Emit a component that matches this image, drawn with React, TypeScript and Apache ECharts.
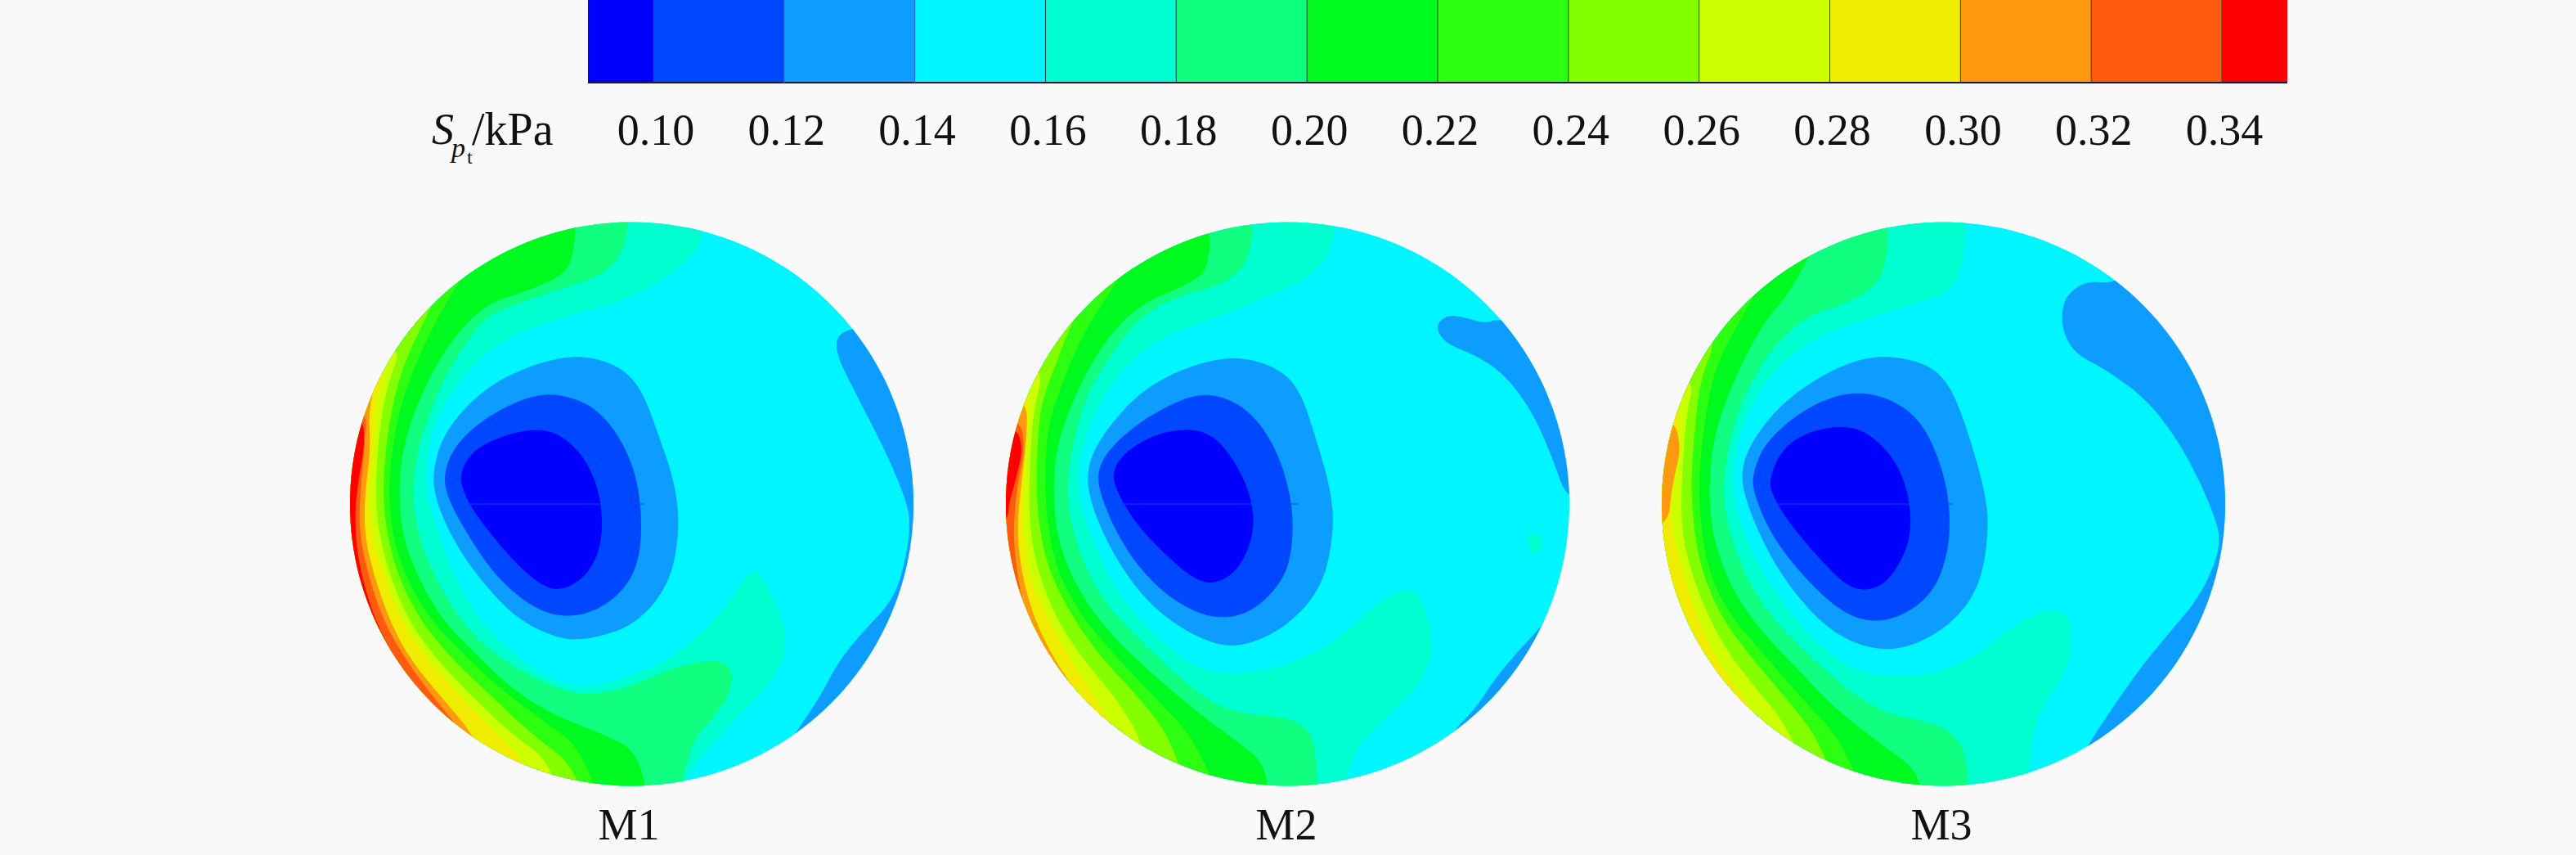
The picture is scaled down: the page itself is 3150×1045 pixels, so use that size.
import React, { useEffect, useRef } from "react";
import * as echarts from "echarts";

const tickValues = [0.1, 0.12, 0.14, 0.16, 0.18, 0.2, 0.22, 0.24, 0.26, 0.28, 0.3, 0.32, 0.34];
const binEdges = [0.09, 0.1, 0.12, 0.14, 0.16, 0.18, 0.2, 0.22, 0.24, 0.26, 0.28, 0.3, 0.32, 0.34, 0.35];
const binColors = ["#0000ff", "#0048ff", "#0d9cff", "#00f6ff", "#00ffd0", "#10ff80", "#00fa20", "#2cff10", "#84ff00", "#ccff00", "#f0ec00", "#ff9a10", "#ff5a10", "#ff0000"];
const panelNames = ["M1", "M2", "M3"];

type P = number[][];
// Iso-contours, in picture-scale field coordinates (y downward).
const m1High: P[] = [
  [[945,-20],[950,95],[880,160],[760,230],[600,270],[450,320],[350,400],[270,520],[245,640],[255,720],[300,850],[360,970],[430,1050],[530,1130],[640,1170],[760,1140],[880,1090],[1000,980],[1060,890],[1090,885],[1130,960],[1160,1040],[1140,1130],[1040,1230],[950,1320],[900,1385],[890,1480]],
  [[760,-20],[755,100],[700,170],[600,200],[480,240],[400,270],[330,360],[270,470],[225,600],[215,720],[240,830],[290,930],[350,1020],[430,1090],[540,1150],[640,1185],[760,1165],[860,1120],[970,1095],[1020,1115],[1020,1170],[980,1230],[930,1280],[895,1380],[890,1480]],
  [[628,-20],[625,110],[600,170],[500,210],[400,240],[310,330],[240,450],[195,570],[180,680],[190,800],[230,900],[290,1000],[370,1080],[470,1170],[570,1230],[680,1270],[790,1320],[810,1480]],
  [[420,60],[330,190],[280,270],[230,370],[190,470],[165,580],[155,690],[165,800],[200,900],[260,1000],[340,1080],[440,1170],[540,1240],[640,1310],[700,1480]],
  [[320,130],[250,270],[200,370],[170,460],[150,570],[140,690],[150,790],[180,900],[240,1010],[320,1100],[420,1190],[520,1280],[620,1350],[660,1480]],
  [[90,340],[190,340],[150,440],[130,560],[122,690],[130,790],[160,900],[210,1010],[280,1100],[370,1190],[470,1280],[560,1340],[600,1480]],
  [[50,390],[150,390],[125,460],[120,560],[105,700],[115,800],[145,900],[190,1010],[250,1090],[330,1180],[420,1270],[500,1340],[520,1480]],
  [[30,440],[120,440],[105,500],[110,590],[95,700],[95,800],[120,900],[165,1020],[220,1110],[300,1200],[370,1280],[430,1400]],
  [[20,490],[100,490],[95,580],[85,680],[80,780],[100,880],[140,1000],[200,1100],[270,1190],[340,1270],[380,1400]],
  [[20,510],[90,510],[95,580],[80,660],[70,740],[75,840],[105,960],[150,1060],[200,1130],[280,1260]],
];
const m1Low: P[] = [
  [[265,640],[300,540],[400,440],[520,385],[630,362],[730,385],[790,440],[830,540],[880,680],[888,800],[860,920],[780,1010],[680,1045],[590,1050],[480,1000],[400,920],[330,830],[275,720]],
  [[295,640],[330,570],[420,500],[540,452],[640,470],[710,520],[770,620],[793,730],[790,850],[750,930],[670,985],[580,995],[500,960],[420,890],[350,790],[300,700]],
  [[332,650],[370,590],[450,555],[530,540],[590,555],[650,610],[690,700],[695,810],[660,890],[600,928],[550,925],[480,870],[400,780],[350,710]],
];
const m1Rim: P[] = [
  [[1272,340],[1310,295],[1450,300],[1620,500],[1620,1100],[1400,1400],[1150,1320],[1190,1260],[1240,1190],[1290,1100],[1350,1030],[1430,950],[1462,840],[1470,760],[1455,700],[1400,580],[1340,470]],
];
const m2High: P[] = [
  [[905,-20],[880,130],[800,190],[700,230],[600,270],[450,320],[350,400],[280,510],[240,640],[255,740],[300,860],[370,970],[450,1050],[560,1130],[700,1130],[860,1080],[1000,960],[1060,930],[1100,930],[1125,990],[1140,1060],[1120,1140],[1030,1230],[930,1320],[915,1480]],
  [[690,-20],[680,130],[620,190],[500,220],[400,270],[320,370],[260,470],[225,600],[215,720],[250,850],[310,960],[400,1050],[510,1150],[620,1225],[780,1235],[830,1270],[845,1330],[850,1480]],
  [[578,20],[575,150],[530,190],[400,240],[310,330],[240,450],[190,580],[180,700],[195,820],[250,940],[330,1040],[430,1130],[540,1220],[640,1290],[720,1350],[725,1480]],
  [[420,60],[340,190],[270,290],[220,390],[170,520],[160,640],[165,760],[190,880],[250,990],[340,1090],[440,1190],[540,1290],[620,1480]],
  [[310,140],[230,280],[190,380],[150,480],[140,600],[140,740],[165,870],[220,980],[300,1090],[400,1190],[480,1290],[540,1480]],
  [[60,390],[160,390],[130,500],[122,640],[120,760],[140,880],[190,1000],[260,1100],[340,1190],[410,1300],[440,1480]],
  [[40,430],[125,430],[115,540],[108,680],[105,780],[120,900],[170,1000],[220,1090],[290,1190],[340,1280],[380,1400]],
  [[30,470],[115,470],[115,560],[100,680],[90,780],[100,880],[130,990],[180,1090],[230,1160],[300,1300]],
  [[20,520],[100,520],[110,590],[90,680],[80,790],[90,890],[110,980],[150,1060],[220,1200]],
  [[30,540],[90,540],[105,590],[85,670],[70,720],[66,760],[30,800]],
];
const m2Low: P[] = [
  [[265,640],[300,560],[400,450],[520,390],[640,365],[740,390],[800,440],[840,550],[885,700],[888,800],[860,920],[780,1010],[680,1060],[600,1065],[500,1020],[410,950],[330,840],[275,720]],
  [[292,640],[330,580],[420,510],[540,455],[620,465],[690,510],[750,600],[785,720],[785,830],[760,910],[680,985],[590,1000],[490,960],[400,880],[340,790],[300,700]],
  [[330,640],[370,590],[450,550],[530,540],[590,560],[640,620],[680,700],[690,790],[650,880],[590,915],[540,905],[470,850],[390,770],[340,690]],
];
const m2Rim: P[] = [
  [[1145,295],[1170,268],[1210,270],[1270,287],[1305,275],[1500,300],[1620,720],[1480,720],[1440,610],[1390,500],[1320,410],[1250,365],[1170,335]],
  [[1190,1270],[1250,1210],[1290,1150],[1350,1080],[1420,1010],[1450,960],[1600,1000],[1450,1400],[1150,1330]],
];
const m2Spot: P[] = [[[1370,790],[1420,800],[1410,840],[1385,840]]];
const m3High: P[] = [
  [[840,-20],[830,130],[800,210],[700,240],[600,270],[450,320],[350,400],[280,500],[240,640],[260,760],[310,870],[380,970],[460,1060],[560,1130],[700,1140],[830,1110],[960,1010],[1040,975],[1090,985],[1100,1030],[1095,1110],[1040,1190],[1000,1270],[985,1480]],
  [[640,-20],[635,170],[560,230],[430,270],[340,350],[270,470],[230,600],[220,720],[260,860],[330,980],[420,1070],[510,1150],[620,1225],[760,1250],[820,1290],[840,1360],[840,1480]],
  [[470,60],[400,200],[320,290],[250,420],[200,550],[185,680],[195,800],[240,920],[310,1020],[400,1110],[510,1220],[620,1300],[720,1370],[725,1480]],
  [[360,110],[300,220],[240,320],[200,400],[175,520],[160,660],[165,780],[190,900],[240,990],[320,1080],[420,1190],[520,1290],[600,1480]],
  [[200,200],[200,340],[165,420],[150,540],[140,680],[150,800],[170,890],[220,1000],[300,1100],[390,1200],[470,1300],[530,1480]],
  [[60,420],[150,420],[130,500],[120,620],[115,740],[125,830],[160,940],[220,1060],[290,1150],[370,1240],[420,1340],[470,1480]],
  [[30,480],[115,480],[110,540],[105,620],[90,720],[95,800],[125,900],[170,1030],[220,1120],[270,1180],[340,1300]],
  [[30,520],[100,520],[115,590],[100,650],[90,700],[85,760],[30,790]],
];
const m3Low: P[] = [
  [[265,640],[300,560],[380,470],[500,395],[610,362],[730,380],[790,430],[830,520],[880,680],[893,780],[870,920],[800,1010],[700,1065],[610,1075],[510,1040],[420,960],[340,850],[280,720]],
  [[295,650],[330,570],[430,490],[540,450],[640,465],[720,520],[770,620],[795,730],[790,840],[750,940],[660,1000],[570,1005],[490,960],[400,870],[340,790],[300,700]],
  [[338,660],[370,590],[430,550],[520,532],[590,550],[660,620],[693,710],[695,810],[650,895],[600,930],[540,925],[470,860],[390,770],[345,700]],
];
const m3Rim: P[] = [
  [[1075,260],[1090,215],[1140,185],[1200,190],[1240,170],[1500,250],[1620,700],[1620,1100],[1400,1400],[1120,1340],[1150,1290],[1220,1190],[1280,1110],[1340,1040],[1420,950],[1465,860],[1475,800],[1460,750],[1430,680],[1370,570],[1290,470],[1190,400],[1110,360],[1080,310]],
];
// The faint mesh seam that runs through the low-pressure core of every panel.
const seamSpan = [350, 800];
const seamLevel = 722;

const fieldExtent: P = [[-400, -400], [2000, -400], [2000, 2000], [-400, 2000]];
const closeOutside = (c: P): P => [...c, [-400, 1700], [-400, -300]];

// Corner cutting for drawing only: the read-off vertices stay as they are, their outline is rounded.
const rounded = (pts: P, passes: number): P => {
  let cur = pts;
  for (let k = 0; k < passes; k++) {
    const next: P = [];
    cur.forEach((a, i) => {
      const b = cur[(i + 1) % cur.length];
      next.push([0.75 * a[0] + 0.25 * b[0], 0.75 * a[1] + 0.25 * b[1]]);
      next.push([0.25 * a[0] + 0.75 * b[0], 0.25 * a[1] + 0.75 * b[1]]);
    });
    cur = next;
  }
  return cur;
};

type Region = { color: number; pts: P };
const buildRegions = (high: P[], low: P[], rim: P[], spots: P[]): Region[] => {
  const r: Region[] = [{ color: 3, pts: fieldExtent }];
  high.forEach((c, i) => r.push({ color: 4 + i, pts: rounded(closeOutside(c), 3) }));
  spots.forEach((c) => r.push({ color: 4, pts: rounded(c, 3) }));
  rim.forEach((c) => r.push({ color: 2, pts: rounded(c, 3) }));
  low.forEach((c, i) => r.push({ color: 2 - i, pts: rounded(c, 3) }));
  r.push({ color: 1, pts: [[seamSpan[0], seamLevel - 1], [seamSpan[1], seamLevel - 1], [seamSpan[1], seamLevel + 1], [seamSpan[0], seamLevel + 1]] });
  return r;
};

const panelRegions = [
  buildRegions(m1High, m1Low, m1Rim, []),
  buildRegions(m2High, m2Low, m2Rim, m2Spot),
  buildRegions(m3High, m3Low, m3Rim, []),
];
const panelXRange = [[58, 1478], [62, 1483], [67, 1488]];
const panelLeft = [428, 1230, 2032];
const labelX = [769, 1573, 2374];
const serif = "Liberation Serif";

export default function App() {
  const ref = useRef<HTMLDivElement>(null);
  useEffect(() => {
    document.body.style.margin = "0";
    document.body.style.background = "#f9f9f9";
    const chart = echarts.init(ref.current!, null, { renderer: "svg" });
    const grids: any[] = [{ left: 719, top: 0, width: 2078, height: 102 }];
    const xAxes: any[] = [{
      gridIndex: 0, type: "value", min: 0.09, max: 0.35, position: "bottom",
      axisLine: { show: false }, axisTick: { show: false }, splitLine: { show: false },
      axisLabel: {
        customValues: tickValues, margin: 30, fontFamily: serif, fontSize: 54, color: "#111",
        padding: [0, 0, 0, 6],
        formatter: (v: number) => v.toFixed(2),
      },
    }];
    const yAxes: any[] = [{ gridIndex: 0, type: "value", min: 0, max: 1, show: false }];
    const series: any[] = [{
      type: "custom", xAxisIndex: 0, yAxisIndex: 0, silent: true,
      data: binColors.map((_, i) => [binEdges[i], binEdges[i + 1], i]),
      renderItem: (_: any, api: any) => {
        const a = api.coord([api.value(0), 1]);
        const b = api.coord([api.value(1), 0]);
        const idx = api.value(2);
        const children: any[] = [
          { type: "rect", shape: { x: a[0], y: a[1], width: b[0] - a[0], height: b[1] - a[1] }, style: { fill: binColors[idx] } },
          { type: "line", shape: { x1: a[0], y1: b[1] - 1, x2: b[0], y2: b[1] - 1 }, style: { stroke: "#1a1a3a", lineWidth: 2 } },
        ];
        if (idx >= 2) children.push({ type: "line", shape: { x1: a[0], y1: a[1], x2: a[0], y2: b[1] }, style: { stroke: idx >= 4 ? "#1d3b3b" : "#1a5fd0", lineWidth: 1 } });
        return { type: "group", children };
      },
    }];
    panelNames.forEach((name, p) => {
      const [x0, x1] = panelXRange[p];
      const gi = p + 1;
      grids.push({ left: panelLeft[p], top: 271, width: 689, height: 690 });
      xAxes.push({ gridIndex: gi, type: "value", min: x0, max: x1, show: false });
      yAxes.push({ gridIndex: gi, type: "value", min: 42, max: 1402, inverse: true, show: false });
      const regions = panelRegions[p];
      series.push({
        type: "custom", name, xAxisIndex: gi, yAxisIndex: gi, silent: true, clip: true,
        data: regions.map((_, i) => [i]),
        renderItem: (params: any, api: any) => {
          const reg = regions[params.dataIndex];
          const c = api.coord([(x0 + x1) / 2, 722]);
          const r = api.size([x1 - x0, 0])[0] / 2;
          return {
            type: "polygon",
            shape: { points: reg.pts.map((q) => api.coord(q)) },
            style: { fill: binColors[reg.color] },
            clipPath: { type: "circle", shape: { cx: c[0], cy: c[1], r } },
          };
        },
      });
    });
    const graphic: any[] = [
      { type: "text", x: 528, y: 158, style: { text: "S", fontFamily: serif, fontStyle: "italic", fontSize: 54, fill: "#111", verticalAlign: "middle" } },
      { type: "text", x: 552, y: 180, style: { text: "p", fontFamily: serif, fontStyle: "italic", fontSize: 34, fill: "#111", verticalAlign: "middle" } },
      { type: "text", x: 571, y: 192, style: { text: "t", fontFamily: serif, fontSize: 24, fill: "#111", verticalAlign: "middle" } },
      { type: "text", x: 577, y: 158, style: { text: "/kPa", fontFamily: serif, fontSize: 56, fill: "#111", verticalAlign: "middle" } },
      ...panelNames.map((name, i) => ({
        type: "text", x: labelX[i], y: 1008,
        style: { text: name, fontFamily: serif, fontSize: 54, fill: "#111", align: "center", verticalAlign: "middle" },
      })),
    ];
    chart.setOption({ animation: false, backgroundColor: "#f9f9f9", grid: grids, xAxis: xAxes, yAxis: yAxes, series, graphic });
    return () => chart.dispose();
  }, []);
  return <div ref={ref} style={{ width: 3150, height: 1045 }} />;
}
